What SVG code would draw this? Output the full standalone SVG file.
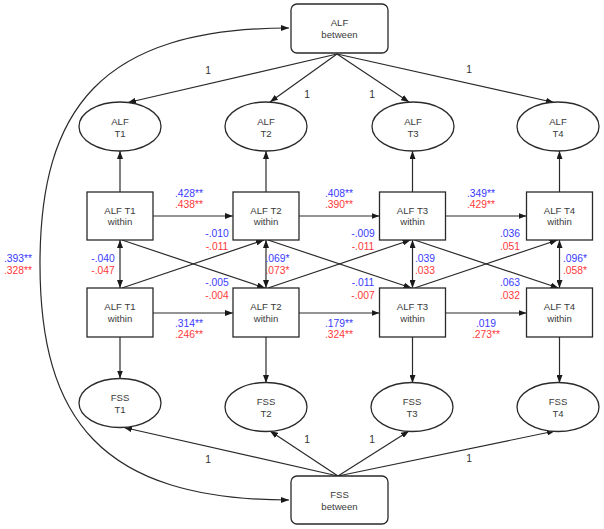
<svg xmlns="http://www.w3.org/2000/svg" width="604" height="529" viewBox="0 0 604 529">
<defs>
<style>
.nd{fill:#fff;stroke:#2a2a2a;stroke-width:1.3}
.t{font-family:"Liberation Sans",Arial,sans-serif;font-size:9.6px;fill:#3a3a3a;text-anchor:middle}
.n{font-family:"Liberation Sans",Arial,sans-serif;font-size:10.3px;text-anchor:middle}
.b{fill:#3a3aff}
.r{fill:#ff3a3a}
.one{font-family:"Liberation Sans",Arial,sans-serif;font-size:10.3px;fill:#333;text-anchor:middle}
.c{fill:none;stroke:#2a2a2a;stroke-width:1.2}
</style>
<marker id="ah" viewBox="0 0 8 6" refX="8" refY="3" markerWidth="8" markerHeight="6" markerUnits="userSpaceOnUse" orient="auto-start-reverse">
<path d="M0,0 L8,3 L0,6 z" fill="#1a1a1a"/>
</marker>
</defs>

<g id="connectors">
<!-- big double-headed curve -->
<path class="c" d="M289,28 C100,28 40,110 40,264 C40,418 100,500 289,500" marker-start="url(#ah)" marker-end="url(#ah)"/>
<!-- ALF between to ALF Tx -->
<line class="c" x1="337" y1="54" x2="128" y2="102.5" marker-end="url(#ah)"/>
<line class="c" x1="337" y1="54" x2="270" y2="102" marker-end="url(#ah)"/>
<line class="c" x1="337" y1="54" x2="409" y2="102" marker-end="url(#ah)"/>
<line class="c" x1="337" y1="54" x2="554" y2="102.5" marker-end="url(#ah)"/>
<!-- FSS between to FSS Tx -->
<line class="c" x1="338" y1="476" x2="124" y2="427.5" marker-end="url(#ah)"/>
<line class="c" x1="338" y1="476" x2="270" y2="431" marker-end="url(#ah)"/>
<line class="c" x1="338" y1="476" x2="409" y2="431" marker-end="url(#ah)"/>
<line class="c" x1="338" y1="476" x2="555" y2="431" marker-end="url(#ah)"/>
<!-- within top to ALF ellipses -->
<line class="c" x1="120" y1="192" x2="120" y2="151" marker-end="url(#ah)"/>
<line class="c" x1="266" y1="192" x2="266" y2="151" marker-end="url(#ah)"/>
<line class="c" x1="412.5" y1="192" x2="412.5" y2="151" marker-end="url(#ah)"/>
<line class="c" x1="559.5" y1="192" x2="559.5" y2="151" marker-end="url(#ah)"/>
<!-- within bottom to FSS ellipses -->
<line class="c" x1="120" y1="337" x2="120" y2="378.5" marker-end="url(#ah)"/>
<line class="c" x1="266" y1="337" x2="266" y2="383" marker-end="url(#ah)"/>
<line class="c" x1="412.5" y1="337" x2="412.5" y2="383" marker-end="url(#ah)"/>
<line class="c" x1="559.5" y1="337" x2="559.5" y2="383" marker-end="url(#ah)"/>
<!-- horizontal top row -->
<line class="c" x1="153" y1="216" x2="233" y2="216" marker-end="url(#ah)"/>
<line class="c" x1="299" y1="216" x2="379.5" y2="216" marker-end="url(#ah)"/>
<line class="c" x1="445.5" y1="216" x2="526.5" y2="216" marker-end="url(#ah)"/>
<!-- horizontal bottom row -->
<line class="c" x1="153" y1="313" x2="233" y2="313" marker-end="url(#ah)"/>
<line class="c" x1="299" y1="313" x2="379.5" y2="313" marker-end="url(#ah)"/>
<line class="c" x1="445.5" y1="313" x2="526.5" y2="313" marker-end="url(#ah)"/>
<!-- vertical double arrows -->
<line class="c" x1="120" y1="240" x2="120" y2="288" marker-start="url(#ah)" marker-end="url(#ah)"/>
<line class="c" x1="266" y1="240" x2="266" y2="288" marker-start="url(#ah)" marker-end="url(#ah)"/>
<line class="c" x1="412.5" y1="240" x2="412.5" y2="288" marker-start="url(#ah)" marker-end="url(#ah)"/>
<line class="c" x1="559.5" y1="240" x2="559.5" y2="288" marker-start="url(#ah)" marker-end="url(#ah)"/>
<!-- cross-lagged -->
<line class="c" x1="122" y1="240" x2="265" y2="288" marker-end="url(#ah)"/>
<line class="c" x1="122" y1="288" x2="264" y2="240" marker-end="url(#ah)"/>
<line class="c" x1="268" y1="240" x2="411.5" y2="288" marker-end="url(#ah)"/>
<line class="c" x1="268" y1="288" x2="410.5" y2="240" marker-end="url(#ah)"/>
<line class="c" x1="414.5" y1="240" x2="558.5" y2="288" marker-end="url(#ah)"/>
<line class="c" x1="414.5" y1="288" x2="557.5" y2="240" marker-end="url(#ah)"/>
</g>

<g id="ALF_between"><rect class="nd" x="291" y="4" width="97" height="49" rx="6"/><text class="t" x="339.5" y="26">ALF</text><text class="t" x="339.5" y="37.5">between</text></g>
<g id="FSS_between"><rect class="nd" x="291" y="476" width="97" height="48" rx="6"/><text class="t" x="339.5" y="497.5">FSS</text><text class="t" x="339.5" y="509.5">between</text></g>

<g id="ALF_T1"><ellipse class="nd" cx="120" cy="126.5" rx="41" ry="24.5"/><text class="t" x="120" y="124.5">ALF</text><text class="t" x="120" y="136.5">T1</text></g>
<g id="ALF_T2"><ellipse class="nd" cx="266" cy="126.5" rx="41" ry="24.5"/><text class="t" x="266" y="124.5">ALF</text><text class="t" x="266" y="136.5">T2</text></g>
<g id="ALF_T3"><ellipse class="nd" cx="413" cy="126.5" rx="41" ry="24.5"/><text class="t" x="413" y="124.5">ALF</text><text class="t" x="413" y="136.5">T3</text></g>
<g id="ALF_T4"><ellipse class="nd" cx="558" cy="126.5" rx="41" ry="24.5"/><text class="t" x="558" y="124.5">ALF</text><text class="t" x="558" y="136.5">T4</text></g>

<g id="FSS_T1"><ellipse class="nd" cx="120" cy="403" rx="41" ry="24.5"/><text class="t" x="120" y="400.5">FSS</text><text class="t" x="120" y="412.5">T1</text></g>
<g id="FSS_T2"><ellipse class="nd" cx="266" cy="407" rx="41" ry="24.5"/><text class="t" x="266" y="404.5">FSS</text><text class="t" x="266" y="416.5">T2</text></g>
<g id="FSS_T3"><ellipse class="nd" cx="412" cy="407" rx="41" ry="24.5"/><text class="t" x="412" y="404.5">FSS</text><text class="t" x="412" y="416.5">T3</text></g>
<g id="FSS_T4"><ellipse class="nd" cx="558" cy="407" rx="41" ry="24.5"/><text class="t" x="558" y="404.5">FSS</text><text class="t" x="558" y="416.5">T4</text></g>

<g id="ALF_T1_within"><rect class="nd" x="87" y="192" width="66" height="48"/><text class="t" x="120" y="213.5">ALF T1</text><text class="t" x="120" y="225">within</text></g>
<g id="ALF_T2_within"><rect class="nd" x="233" y="192" width="66" height="48"/><text class="t" x="266" y="213.5">ALF T2</text><text class="t" x="266" y="225">within</text></g>
<g id="ALF_T3_within"><rect class="nd" x="379.5" y="192" width="66" height="48"/><text class="t" x="412.5" y="213.5">ALF T3</text><text class="t" x="412.5" y="225">within</text></g>
<g id="ALF_T4_within"><rect class="nd" x="526.5" y="192" width="66" height="48"/><text class="t" x="559.5" y="213.5">ALF T4</text><text class="t" x="559.5" y="225">within</text></g>

<g id="FSS_T1_within"><rect class="nd" x="87" y="288" width="66" height="49"/><text class="t" x="120" y="310">ALF T1</text><text class="t" x="120" y="321.5">within</text></g>
<g id="FSS_T2_within"><rect class="nd" x="233" y="288" width="66" height="49"/><text class="t" x="266" y="310">ALF T2</text><text class="t" x="266" y="321.5">within</text></g>
<g id="FSS_T3_within"><rect class="nd" x="379.5" y="288" width="66" height="49"/><text class="t" x="412.5" y="310">ALF T3</text><text class="t" x="412.5" y="321.5">within</text></g>
<g id="FSS_T4_within"><rect class="nd" x="526.5" y="288" width="66" height="49"/><text class="t" x="559.5" y="310">ALF T4</text><text class="t" x="559.5" y="321.5">within</text></g>

<g id="labels">
<text class="one" x="208" y="74">1</text>
<text class="one" x="307" y="98">1</text>
<text class="one" x="372" y="98">1</text>
<text class="one" x="469" y="73">1</text>
<text class="one" x="208" y="463">1</text>
<text class="one" x="307" y="443">1</text>
<text class="one" x="372" y="443">1</text>
<text class="one" x="469" y="462">1</text>

<text class="n b" x="189" y="196.5">.428**</text><text class="n r" x="189" y="208">.438**</text>
<text class="n b" x="339" y="196.5">.408**</text><text class="n r" x="339" y="208">.390**</text>
<text class="n b" x="481" y="196.5">.349**</text><text class="n r" x="481" y="208">.429**</text>

<text class="n b" x="217" y="237">-.010</text><text class="n r" x="217" y="249.5">-.011</text>
<text class="n b" x="363" y="237">-.009</text><text class="n r" x="363" y="249.5">-.011</text>
<text class="n b" x="510" y="237">.036</text><text class="n r" x="510" y="249.5">.051</text>

<text class="n b" x="18" y="262">.393**</text><text class="n r" x="18" y="274">.328**</text>
<text class="n b" x="103" y="262">-.040</text><text class="n r" x="103" y="274">-.047</text>
<text class="n b" x="277.5" y="262">.069*</text><text class="n r" x="277.5" y="274">.073*</text>
<text class="n b" x="425" y="262">.039</text><text class="n r" x="425" y="274">.033</text>
<text class="n b" x="575" y="262">.096*</text><text class="n r" x="575" y="274">.058*</text>

<text class="n b" x="217" y="286">-.005</text><text class="n r" x="217" y="298.5">-.004</text>
<text class="n b" x="363" y="286">-.011</text><text class="n r" x="363" y="298.5">-.007</text>
<text class="n b" x="510" y="286">.063</text><text class="n r" x="510" y="298.5">.032</text>

<text class="n b" x="189" y="326.5">.314**</text><text class="n r" x="189" y="338">.246**</text>
<text class="n b" x="339" y="326.5">.179**</text><text class="n r" x="339" y="338">.324**</text>
<text class="n b" x="486" y="326.5">.019</text><text class="n r" x="486" y="338">.273**</text>
</g>
</svg>
